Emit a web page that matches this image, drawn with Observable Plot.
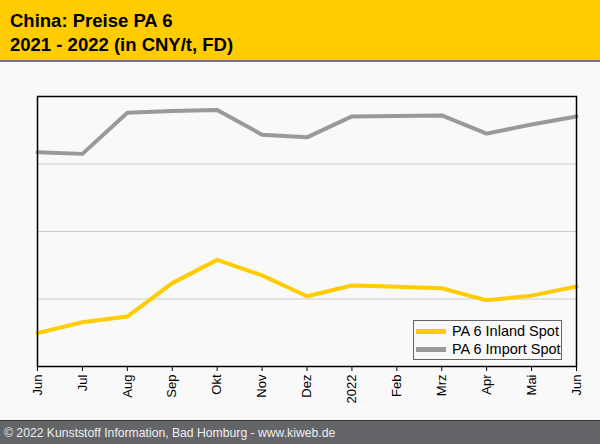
<!DOCTYPE html>
<html>
<head>
<meta charset="utf-8">
<script src="https://cdn.jsdelivr.net/npm/d3@7"></script>
<script src="https://cdn.jsdelivr.net/npm/@observablehq/plot@0.6"></script>
<style>
  html, body { margin: 0; padding: 0; background: #f9f9f9; }
  body { width: 600px; height: 444px; overflow: hidden; position: relative; font-family: "Liberation Sans", Arial, sans-serif; }
  #header { background: #ffcc00; height: 60px; border-bottom: 2px solid #777; box-sizing: content-box; position: relative; }
  #header div { position: absolute; left: 10px; font-weight: bold; font-size: 18.5px; color: #000; line-height: 1; }
  #chart { position: relative; height: 358px; }
  #chart svg { display: block; }
  #legend { position: absolute; left: 413px; top: 258px; width: 147px; height: 38px; border: 1px solid #666; background: #f9f9f9; font-size: 14.5px; }
  .li { position: absolute; left: 2px; height: 18px; display: flex; align-items: center; }
  .sw { width: 30px; height: 5px; margin-right: 6px; }
  #footer { position: absolute; left: 0; top: 420px; width: 600px; height: 24px; background: #646569; color: #eeeeee; font-size: 12.2px; line-height: 24px; padding-left: 4px; box-sizing: border-box; border-top: 1px solid #333; }
</style>
</head>
<body>
<div id="header">
  <div style="top:12px">China: Preise PA 6</div>
  <div style="top:36px">2021 - 2022 (in CNY/t, FD)</div>
</div>
<div id="chart">
  <div id="legend">
    <div class="li" style="top:1px"><div class="sw" style="background:#ffcc00"></div>PA 6 Inland Spot</div>
    <div class="li" style="top:19px"><div class="sw" style="background:#999999"></div>PA 6 Import Spot</div>
  </div>
</div>
<div id="footer">© 2022 Kunststoff Information, Bad Homburg - www.kiweb.de</div>
<script>
const months = ["Jun","Jul","Aug","Sep","Okt","Nov","Dez","2022","Feb","Mrz","Apr","Mai","Jun"];
const inlandSpot = [12990,13310,13480,14470,15160,14700,14080,14400,14360,14320,13960,14100,14370];
const importSpot = [18350,18300,19520,19570,19600,18870,18790,19410,19420,19440,18900,19170,19410];
const yGrid = [14000,16000,18000];

const inland = inlandSpot.map((v,i) => ({i, v}));
const imp = importSpot.map((v,i) => ({i, v}));

const plot = Plot.plot({
  width: 600,
  height: 358,
  marginLeft: 37,
  marginRight: 24,
  marginTop: 34,
  marginBottom: 54,
  style: { background: "transparent", fontFamily: "Liberation Sans, Arial, sans-serif", fontSize: "13px", color: "#000" },
  x: { type: "linear", domain: [0, months.length - 1], axis: null },
  y: { domain: [12000, 20000], axis: null },
  marks: [
    Plot.gridY(yGrid, { stroke: "#cccccc", strokeOpacity: 1, strokeWidth: 1 }),
    Plot.line(imp, { x: "i", y: "v", stroke: "#999999", strokeWidth: 4 }),
    Plot.line(inland, { x: "i", y: "v", stroke: "#ffcc00", strokeWidth: 4 }),
    Plot.frame({ stroke: "#000", strokeWidth: 1.5 }),
    Plot.axisX({ ticks: d3.range(months.length), tickRotate: -90, tickSize: 5, tickPadding: 3, fontSize: 13, tickFormat: i => months[i], stroke: "#000", label: null })
  ]
});
document.getElementById("chart").prepend(plot);
</script>
</body>
</html>
